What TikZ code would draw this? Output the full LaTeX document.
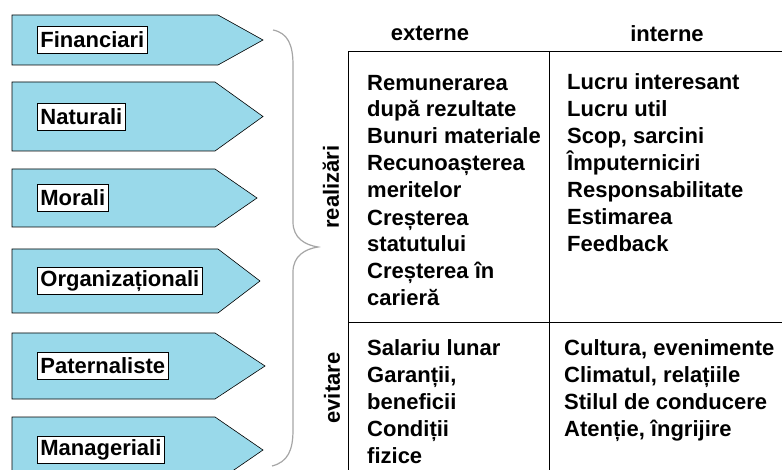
\documentclass[tikz,border=0pt]{standalone}
\usepackage{fontspec}
\setmainfont{Liberation Sans}
\definecolor{bleufleche}{RGB}{153,217,234}
\begin{document}
\begin{tikzpicture}[x=1pt,y=-1pt,
    fleche/.style={draw=black, fill=bleufleche, line width=.6pt},
    etiq/.style={draw=black, fill=white, anchor=west, inner xsep=3pt, inner ysep=0pt,
      minimum height=27pt, line width=.8pt, font=\fontsize{22}{27}\selectfont\bfseries},
    texte/.style={anchor=base west, align=left, inner sep=0pt,
      font=\fontsize{22}{27}\selectfont\bfseries},
    titre/.style={anchor=base, inner sep=0pt, font=\fontsize{22}{27}\selectfont\bfseries}]
  \useasboundingbox (0,0) rectangle (782,470);
  % ------ Les flèches -----------------------------
  \foreach \h/\b/\f/\p/\nom/\txt in {15/65/218/263/fin/Financiari,
      82/151/215/263/nat/Naturali, 169/227/215/257/mor/Morali,
      249/313/218/260/org/Organizaționali, 333/399/215/265/pat/Paternaliste,
      417/483/215/263/man/Manageriali}{
    \draw [fleche] (12,\h) -- (\f,\h) -- (\p,{(\h+\b)/2}) -- (\f,\b) -- (12,\b) -- cycle;
    \node [etiq] (\nom) at (37,{(\h+\b)/2}) {\txt};
  }
  % ------ L'accolade -----------------------------
  \draw [gray!70, line width=1.2pt] (273,30) .. controls (288,33) and (293,45) .. (293,65)
    -- (293,222) .. controls (293,238) and (305,245) .. (318,247)
    .. controls (305,249) and (293,256) .. (293,272)
    -- (293,430) .. controls (293,450) and (288,462) .. (272,466);
  \node [titre, rotate=90, anchor=center] (real) at (331,187) {realizări};
  \node [titre, rotate=90, anchor=center] (evit) at (332,388) {evitare};
  % ------ Le tableau (base = derniere ligne) -----------------------------
  \draw [line width=.8pt] (782,51) -- (348,51) -- (348,470);
  \draw [line width=.8pt] (549,51) -- (549,470);
  \draw [line width=.8pt] (348,322) -- (782,322);
  \node [titre] (ext) at (430,41) {externe};
  \node [titre] (int) at (667,42) {interne};
  \node [texte] (ext1) at (367,306) {Remunerarea\\după rezultate\\Bunuri materiale\\Recunoașterea\\meritelor\\Creșterea\\statutului\\Creșterea în\\carieră};
  \node [texte] (int1) at (567,252) {Lucru interesant\\Lucru util\\Scop, sarcini\\Împuterniciri\\Responsabilitate\\Estimarea\\Feedback};
  \node [texte] (ext2) at (367,463) {Salariu lunar\\Garanții,\\beneficii\\Condiții\\fizice};
  \node [texte] (int2) at (564,436) {Cultura, evenimente\\Climatul, relațiile\\Stilul de conducere\\Atenție, îngrijire};
\end{tikzpicture}
\end{document}
